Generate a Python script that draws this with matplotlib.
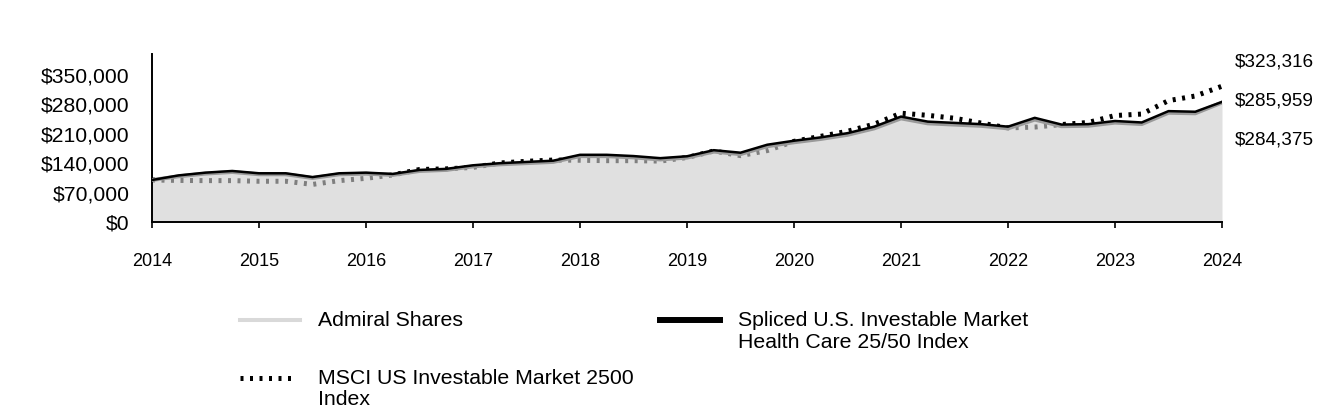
import matplotlib
matplotlib.use('Agg')
import matplotlib.pyplot as plt
from matplotlib.lines import Line2D

plt.rcParams['font.family'] = ['Liberation Sans', 'DejaVu Sans']

# quarterly values, 2014 -> 2024
years = [2014 + q / 4 for q in range(41)]
admiral = [100000, 108800, 115200, 119000, 113600, 113500, 104700, 113500, 115000, 112000,
           121400, 123900, 132300, 137200, 140100, 143000, 156800, 156700, 153700, 148800,
           153200, 167500, 161500, 180300, 189700, 197600, 207500, 222800, 246600, 234800,
           231800, 228800, 222800, 243700, 228000, 229000, 236500, 233100, 260000, 258700,
           284375]
spliced = [100000, 111000, 117500, 121500, 116000, 116000, 107000, 116000, 117500, 114500,
           124000, 126500, 135000, 140000, 143000, 146000, 160000, 160000, 157000, 152000,
           156500, 171000, 165000, 184000, 193500, 201500, 211500, 227000, 251000, 239000,
           236000, 233000, 227000, 248000, 232000, 233000, 240500, 237000, 264000, 262500,
           285959]
msci = [100000, 99000, 98500, 98500, 97000, 97000, 89500, 98500, 104000, 112000,
        125000, 126500, 130000, 140500, 144500, 147500, 147000, 146000, 146000, 145000,
        153500, 169000, 158000, 170000, 192000, 204000, 216000, 233000, 259000, 254000,
        247000, 235500, 224000, 226000, 232000, 237000, 253500, 257000, 289000, 300000,
        323316]
end_labels = ['$323,316', '$285,959', '$284,375']
yticks = [0, 70000, 140000, 210000, 280000, 350000]

fig = plt.figure(figsize=(13.44, 4.2), dpi=100)
ax = fig.add_axes([152 / 1344, 1 - 222 / 420, 1070 / 1344, 168 / 420])

ax.plot(years, msci, color='black', lw=3.6, dashes=(0.6, 1.3), solid_capstyle='butt',
        dash_capstyle='butt', zorder=1)
ax.fill_between(years, 0, admiral, color='#cecece', alpha=0.62, lw=0, zorder=2)
ax.plot(years, admiral, color='#9a9a9a', lw=2.8, zorder=3)
ax.plot(years, spliced, color='black', lw=1.8, zorder=4)

ax.set_xlim(2014, 2024)
ax.set_ylim(0, 400000)
ax.set_xticks(range(2014, 2025))
ax.set_yticks(yticks)
ax.set_yticklabels(['${:,}'.format(v) for v in yticks])
ax.tick_params(axis='x', length=4, width=1.2, pad=18.5, labelsize=13)
ax.tick_params(axis='y', length=0, pad=16, labelsize=15.2)
for s in ['top', 'right']:
    ax.spines[s].set_visible(False)
for s in ['left', 'bottom']:
    ax.spines[s].set_linewidth(1.4)
ax.set_facecolor('none')

# values at the right edge
for i, t in enumerate(end_labels):
    fig.text(1235 / 1344, 1 - (62 + 39 * i) / 420, t, fontsize=13.6, va='center', ha='left')

# legend drawn by hand
def fy(py):
    return 1 - py / 420

fig.add_artist(Line2D([240 / 1344, 300 / 1344], [fy(320), fy(320)], color='#d9d9d9', lw=2.9))
fig.text(318 / 1344, fy(320), 'Admiral Shares', fontsize=15.3, va='center')
fig.add_artist(Line2D([660 / 1344, 720 / 1344], [fy(320), fy(320)], color='black', lw=4.3))
fig.text(738 / 1344, fy(311), 'Spliced U.S. Investable Market\nHealth Care 25/50 Index',
         fontsize=15.3, va='top', linespacing=1.2)
fig.add_artist(Line2D([240 / 1344, 296 / 1344], [fy(378), fy(378)], color='black', lw=3.6,
                      dashes=(0.6, 1.3), dash_capstyle='butt'))
fig.text(318 / 1344, fy(369.5), 'MSCI US Investable Market 2500\nIndex', fontsize=15.3,
         va='top', linespacing=1.1)

fig.savefig('out.png', dpi=100)
